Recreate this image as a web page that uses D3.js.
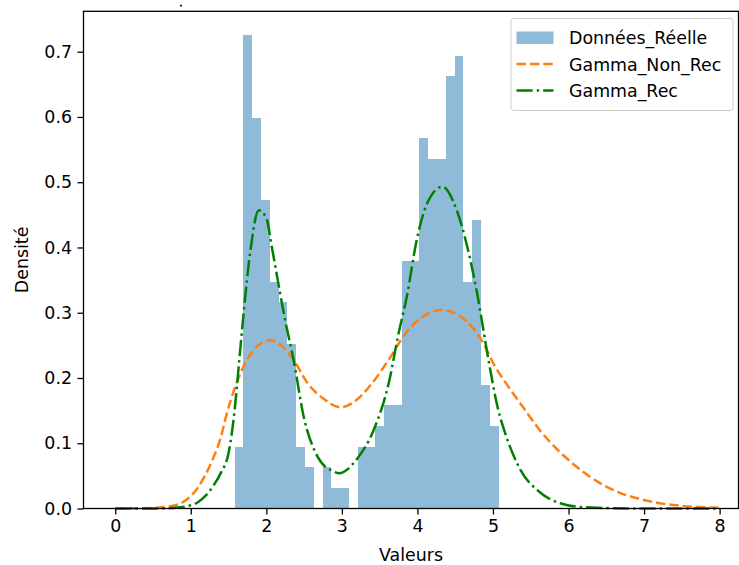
<!DOCTYPE html>
<html>
<head>
<meta charset="utf-8">
<script src="https://cdn.jsdelivr.net/npm/d3@7"></script>
<style>
  html, body { margin: 0; padding: 0; background: #fff; }
  svg { display: block; }
  text { font-family: "DejaVu Sans", sans-serif; fill: #000; }
</style>
</head>
<body>
<svg id="chart" width="739" height="565"></svg>
<script>
// Histogram: 30 equal bins, density per bin
const binStart = 1.58;
const binWidth = 0.11647;
const histDensity = [
  0.095, 0.726, 0.599, 0.473, 0.347, 0.316, 0.252, 0.095, 0.063, 0.000,
  0.063, 0.032, 0.032, 0.000, 0.095, 0.095, 0.126, 0.158, 0.158, 0.379,
  0.379, 0.568, 0.536, 0.536, 0.663, 0.694, 0.347, 0.442, 0.189, 0.126
];

// Fitted density curve without recalibration (orange, dashed)
const nonRecX = [0, 0.5, 0.7, 0.8, 0.9, 1.0, 1.1, 1.2, 1.3, 1.4, 1.46, 1.59, 1.77, 2.05, 2.36, 2.54, 2.76, 2.98, 3.18, 3.4, 3.62, 3.84, 4.06, 4.32, 4.63, 4.85, 5.03, 5.16, 5.4, 5.62, 5.9, 6.15, 6.4, 6.68, 7.0, 7.21, 7.5, 8.0];
const nonRecY = [0, 0.001, 0.003, 0.005, 0.01, 0.019, 0.033, 0.053, 0.078, 0.11, 0.138, 0.187, 0.233, 0.258, 0.228, 0.193, 0.168, 0.155, 0.165, 0.192, 0.228, 0.268, 0.293, 0.304, 0.289, 0.258, 0.217, 0.194, 0.155, 0.12, 0.085, 0.06, 0.04, 0.024, 0.013, 0.008, 0.004, 0.001];

// Fitted density curve with recalibration (green, dash-dot)
const recX = [0, 0.5, 0.8, 1.0, 1.1, 1.2, 1.3, 1.4, 1.5, 1.58, 1.64, 1.7, 1.79, 1.9, 2.0, 2.08, 2.24, 2.36, 2.5, 2.65, 2.78, 2.85, 2.96, 3.2, 3.42, 3.62, 3.75, 3.86, 3.99, 4.13, 4.33, 4.52, 4.66, 4.79, 4.94, 5.07, 5.16, 5.36, 5.62, 5.89, 6.2, 7.0, 8.0];
const recY = [0, 0, 0.001, 0.005, 0.01, 0.02, 0.035, 0.055, 0.085, 0.15, 0.225, 0.3, 0.396, 0.457, 0.445, 0.396, 0.294, 0.228, 0.138, 0.086, 0.064, 0.059, 0.054, 0.076, 0.12, 0.192, 0.268, 0.325, 0.411, 0.468, 0.493, 0.457, 0.401, 0.33, 0.228, 0.151, 0.116, 0.06, 0.025, 0.008, 0.002, 0, 0];

const xTicks = [0, 1, 2, 3, 4, 5, 6, 7, 8];
const yTicks = [0.0, 0.1, 0.2, 0.3, 0.4, 0.5, 0.6, 0.7];

const legendLabels = ["Données_Réelle", "Gamma_Non_Rec", "Gamma_Rec"];
const xLabel = "Valeurs";
const yLabel = "Densité";

const svg = d3.select("#chart");
const plot = { left: 83.5, right: 738.5, top: 11.3, bottom: 508.5 };
const fontSize = "17.4px";

const x = d3.scaleLinear().domain([-0.42, 8.25]).range([plot.left, plot.right]);
const y = d3.scaleLinear().domain([0, 0.7619]).range([plot.bottom, plot.top]);

const barColor = "#1f77b4";
const orange = "#ff7f0e";
const green = "#008000";
const lineW = 2.5;
const dashed = "9.4 4";
const dashDot = "16.2 4 2.5 4";

// histogram bars
const bins = histDensity.map((d, i) => ({
  x0: binStart + i * binWidth,
  x1: binStart + (i + 1) * binWidth,
  v: d
}));
svg.append("g")
  .selectAll("rect")
  .data(bins.filter(b => b.v > 0))
  .join("rect")
  .attr("x", b => x(b.x0))
  .attr("width", b => x(b.x1) - x(b.x0))
  .attr("y", b => y(b.v))
  .attr("height", b => y(0) - y(b.v))
  .attr("fill", barColor)
  .attr("fill-opacity", 0.5)
  .attr("shape-rendering", "crispEdges");

// curves
const line = d3.line()
  .x(d => x(d[0]))
  .y(d => y(d[1]))
  .curve(d3.curveMonotoneX);

svg.append("path")
  .datum(nonRecX.map((v, i) => [v, nonRecY[i]]))
  .attr("d", line)
  .attr("fill", "none")
  .attr("stroke", orange)
  .attr("stroke-width", lineW)
  .attr("stroke-dasharray", dashed);

svg.append("path")
  .datum(recX.map((v, i) => [v, recY[i]]))
  .attr("d", line)
  .attr("fill", "none")
  .attr("stroke", green)
  .attr("stroke-width", lineW)
  .attr("stroke-dasharray", dashDot);

// axes
const xAxis = d3.axisBottom(x).tickValues(xTicks).tickFormat(d3.format("d")).tickSize(6).tickPadding(5.5);
const yAxis = d3.axisLeft(y).tickValues(yTicks).tickFormat(d3.format(".1f")).tickSize(6).tickPadding(5.5);

const gx = svg.append("g").attr("transform", `translate(0,${plot.bottom})`).call(xAxis);
const gy = svg.append("g").attr("transform", `translate(${plot.left},0)`).call(yAxis);
[gx, gy].forEach(g => {
  g.select(".domain").remove();
  g.selectAll(".tick line").attr("stroke", "#000").attr("stroke-width", 1.3);
  g.selectAll(".tick text").attr("font-size", fontSize).attr("font-family", "DejaVu Sans, sans-serif").attr("fill", "#000");
});

// frame
svg.append("rect")
  .attr("x", plot.left).attr("y", plot.top)
  .attr("width", plot.right - plot.left).attr("height", plot.bottom - plot.top)
  .attr("fill", "none").attr("stroke", "#000").attr("stroke-width", 1.3);

// axis labels
svg.append("text")
  .attr("x", (plot.left + plot.right) / 2).attr("y", 561)
  .attr("text-anchor", "middle").attr("font-size", fontSize)
  .text(xLabel);
svg.append("text")
  .attr("transform", `translate(28,${(plot.top + plot.bottom) / 2}) rotate(-90)`)
  .attr("text-anchor", "middle").attr("font-size", fontSize)
  .text(yLabel);

// title remnant at the top edge
svg.append("text")
  .attr("x", 180).attr("y", 6.2)
  .attr("font-size", "6px")
  .attr("stroke", "#000").attr("stroke-width", 1.1)
  .text(".");

// legend
const lg = svg.append("g").attr("transform", "translate(511,18.5)");
lg.append("rect")
  .attr("width", 222).attr("height", 92).attr("rx", 3)
  .attr("fill", "#fff").attr("fill-opacity", 0.8)
  .attr("stroke", "#cccccc").attr("stroke-width", 1);
const rowY = [19, 45.5, 72];
lg.append("rect")
  .attr("x", 5.5).attr("y", rowY[0] - 6).attr("width", 37).attr("height", 12.5)
  .attr("fill", barColor).attr("fill-opacity", 0.5);
lg.append("line")
  .attr("x1", 5.5).attr("x2", 42.5).attr("y1", rowY[1]).attr("y2", rowY[1])
  .attr("stroke", orange).attr("stroke-width", lineW).attr("stroke-dasharray", dashed);
lg.append("line")
  .attr("x1", 5.5).attr("x2", 42.5).attr("y1", rowY[2]).attr("y2", rowY[2])
  .attr("stroke", green).attr("stroke-width", lineW).attr("stroke-dasharray", dashDot);
lg.selectAll("text.lab")
  .data(legendLabels)
  .join("text")
  .attr("class", "lab")
  .attr("x", 58)
  .attr("y", (d, i) => rowY[i] + 6.5)
  .attr("font-size", fontSize)
  .text(d => d);
</script>
</body>
</html>
